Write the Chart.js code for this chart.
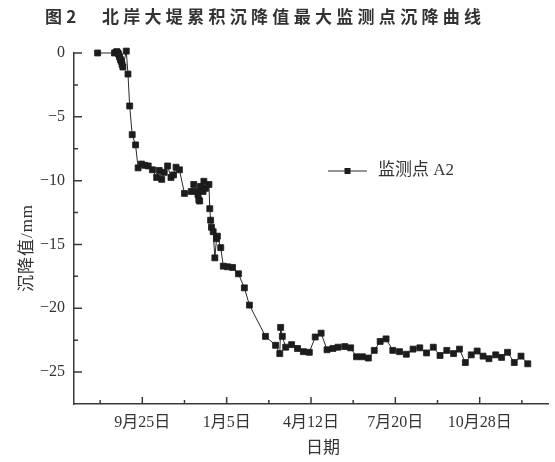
<!DOCTYPE html>
<html>
<head>
<meta charset="utf-8">
<script src="https://cdn.jsdelivr.net/npm/chart.js@4.4.1/dist/chart.umd.min.js"></script>
<style>
  html, body { margin: 0; padding: 0; background: #fff; }
  #wrap { width: 555px; height: 462px; position: relative; }
</style>
</head>
<body>
<div id="wrap"><canvas id="c" width="555" height="462"></canvas></div>
<script>
const titleText = '图2\u3000北岸大堤累积沉降值最大监测点沉降曲线';
const seriesName = '监测点 A2';
const xTitle = '日期';
const yTitle = '沉降值/mm';

// Observation day, counted from 9月25日
const days = [
  -53, -33, -31, -30, -29, -28, -27, -26, -25, -24,
  -23, -19, -17, -15, -12, -8, -5, -1, 3, 7,
  12, 17, 20, 23, 26, 30, 34, 37, 40, 44,
  50, 58, 61, 65, 66, 67, 68, 69, 72, 73,
  75, 79, 80, 81, 82, 84, 86, 88, 89, 93,
  96, 101, 107, 114, 121, 127, 146, 158, 163, 164,
  166, 170, 177, 184, 191, 198, 205, 212, 219, 226,
  232, 240, 247, 254, 261, 268, 275, 282, 289, 297,
  305, 313, 321, 329, 337, 345, 353, 361, 369, 376,
  383, 390, 397, 404, 411, 419, 426, 433, 441, 449,
  457
];

// Cumulative settlement of point A2 (mm)
const settlement = [
  0, 0, 0.08, 0.1, 0, -0.1, -0.3, -0.5, -0.65, -0.9,
  -1.1, 0.15, -1.65, -4.15, -6.4, -7.2, -9.0, -8.7, -8.8, -8.85,
  -9.15, -9.75, -9.2, -9.9, -9.35, -8.85, -9.75, -9.55, -8.95, -9.15,
  -11.0, -10.85, -10.3, -10.85, -11.1, -11.5, -11.6, -10.45, -10.85, -10.05,
  -10.6, -10.3, -12.2, -13.1, -13.65, -14.0, -16.05, -14.55, -14.35, -15.25,
  -16.7, -16.75, -16.8, -17.3, -18.4, -19.75, -22.2, -22.9, -23.55, -21.5,
  -22.2, -23.05, -22.85, -23.15, -23.4, -23.45, -22.25, -21.95, -23.25, -23.15,
  -23.05, -23.0, -23.1, -23.8, -23.8, -23.9, -23.3, -22.6, -22.4, -23.3,
  -23.4, -23.6, -23.2, -23.1, -23.5, -23.05, -23.7, -23.3, -23.55, -23.2,
  -24.25, -23.65, -23.35, -23.75, -23.95, -23.65, -23.85, -23.45, -24.25, -23.75,
  -24.35
];

const xTickDays = [0, 100, 200, 300, 400];
const xTickLabels = ['9月25日', '1月5日', '4月12日', '7月20日', '10月28日'];
const xMinorDays = [-50, 50, 150, 250, 350, 450];
const yMajorTicks = [0, -5, -10, -15, -20, -25];
const yMinorTicks = [-2.5, -7.5, -12.5, -17.5, -22.5];

const FONT = "'Liberation Serif', 'Noto Sans CJK SC', serif";
const AXIS_COLOR = '#3a3a3a';
const TEXT_COLOR = '#333';
const MARK_COLOR = '#1c1c1c';

// Inward tick marks, chart title, axis titles and the in-plot legend
const decor = {
  id: 'decor',
  afterDraw(chart) {
    const ctx = chart.ctx;
    const { left, bottom } = chart.chartArea;
    const xs = chart.scales.x, ys = chart.scales.y;
    ctx.save();
    ctx.strokeStyle = AXIS_COLOR;
    ctx.lineWidth = 1.5;
    ctx.beginPath();
    xTickDays.forEach(v => { const p = xs.getPixelForValue(v); ctx.moveTo(p, bottom); ctx.lineTo(p, bottom - 7); });
    xMinorDays.forEach(v => { const p = xs.getPixelForValue(v); ctx.moveTo(p, bottom); ctx.lineTo(p, bottom - 4); });
    yMajorTicks.forEach(v => { const p = ys.getPixelForValue(v); ctx.moveTo(left, p); ctx.lineTo(left + 8, p); });
    yMinorTicks.forEach(v => { const p = ys.getPixelForValue(v); ctx.moveTo(left, p); ctx.lineTo(left + 4, p); });
    ctx.stroke();

    // title
    ctx.fillStyle = '#333';
    ctx.font = "bold 17px 'Noto Sans CJK SC', sans-serif";
    ctx.textBaseline = 'middle';
    ctx.textAlign = 'left';
    ctx.letterSpacing = '4.3px';
    ctx.fillText(titleText, 45, 16.5);
    ctx.letterSpacing = '0px';

    // axis titles
    ctx.fillStyle = TEXT_COLOR;
    ctx.font = '17px ' + FONT;
    ctx.textAlign = 'center';
    ctx.fillText(xTitle, 323, 449);
    ctx.save();
    ctx.translate(28, 248);
    ctx.rotate(-Math.PI / 2);
    ctx.letterSpacing = '1px';
    ctx.fillText(yTitle, 0, 0);
    ctx.restore();

    // legend
    const ds = chart.data.datasets[0];
    const ly = 171;
    ctx.strokeStyle = ds.borderColor;
    ctx.lineWidth = 1;
    ctx.beginPath();
    ctx.moveTo(328, ly); ctx.lineTo(367, ly);
    ctx.stroke();
    ctx.fillStyle = MARK_COLOR;
    ctx.fillRect(347.5 - 3, ly - 3, 6, 6);
    ctx.fillStyle = TEXT_COLOR;
    ctx.font = '17px ' + FONT;
    ctx.textAlign = 'left';
    ctx.fillText(ds.label, 378, ly);
    ctx.restore();
  }
};

new Chart(document.getElementById('c'), {
  type: 'line',
  data: {
    datasets: [{
      label: seriesName,
      data: days.map((d, i) => ({ x: d, y: settlement[i] })),
      borderColor: '#2a2a2a',
      borderWidth: 1,
      pointStyle: 'rect',
      pointRadius: 4.2,
      pointBorderWidth: 0.8,
      pointBackgroundColor: MARK_COLOR,
      pointBorderColor: MARK_COLOR,
      tension: 0,
      clip: false
    }]
  },
  options: {
    responsive: false,
    animation: false,
    devicePixelRatio: 1,
    layout: { padding: { top: 53, right: 7, left: 0, bottom: 0 } },
    plugins: { legend: { display: false }, title: { display: false }, tooltip: { enabled: false } },
    scales: {
      x: {
        type: 'linear',
        min: -81,
        max: 481,
        afterBuildTicks: s => {
          s.ticks = [...xMinorDays, ...xTickDays].sort((a, b) => a - b).map(v => ({ value: v }));
        },
        afterFit: s => { s.height = 58; },
        ticks: {
          autoSkip: false,
          maxRotation: 0,
          padding: 9,
          color: TEXT_COLOR,
          font: { family: FONT, size: 16 },
          callback: v => { const i = xTickDays.indexOf(v); return i >= 0 ? xTickLabels[i] : ''; }
        },
        grid: { display: false, drawTicks: false },
        border: { display: true, color: AXIS_COLOR, width: 1.5 }
      },
      y: {
        type: 'linear',
        min: -27.5,
        max: 0,
        afterBuildTicks: s => {
          s.ticks = [...yMajorTicks, ...yMinorTicks].sort((a, b) => a - b).map(v => ({ value: v }));
        },
        afterFit: s => { s.width = 74; },
        ticks: {
          autoSkip: false,
          padding: 9,
          color: TEXT_COLOR,
          font: { family: FONT, size: 16 },
          callback: v => yMajorTicks.includes(v) ? (v < 0 ? '\u2212' + Math.abs(v) : String(v)) : ''
        },
        grid: { display: false, drawTicks: false },
        border: { display: true, color: AXIS_COLOR, width: 1.5 }
      }
    }
  },
  plugins: [decor]
});
</script>
</body>
</html>
